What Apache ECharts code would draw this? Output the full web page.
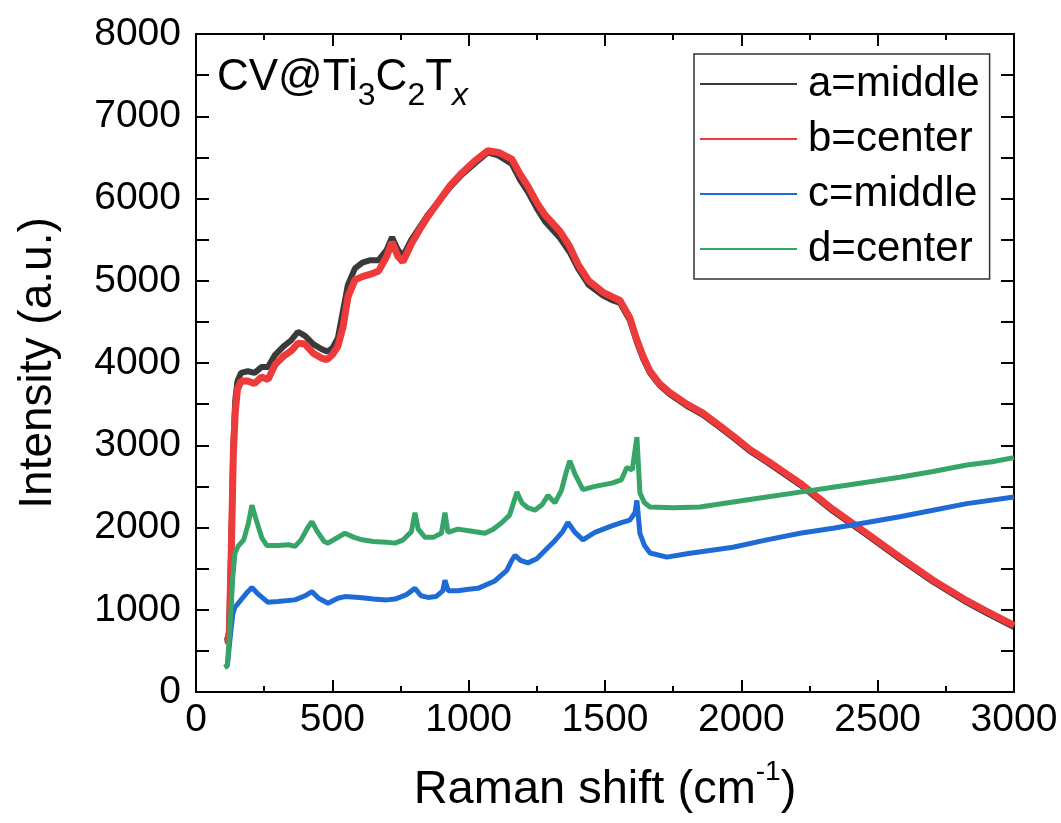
<!DOCTYPE html>
<html lang="en">
<head>
<meta charset="UTF-8">
<title>Raman CV@Ti3C2Tx</title>
<script src="https://cdn.jsdelivr.net/npm/echarts@6/dist/echarts.min.js"></script>
<style>html, body { margin: 0; background: #fff; }</style>
</head>
<body>
<div id="main" style="width: 1061px; height: 823px;"></div>
<script type="text/javascript">
// values (Raman shift in cm-1, intensity in a.u.)
var shiftAB = [105, 115, 122, 130, 137, 144, 152, 165, 190, 215, 240, 264, 290, 320, 350, 374, 400, 430, 460, 480,
    500, 520, 540, 557, 583, 610, 640, 670, 700, 719, 740, 759, 790, 820, 850, 887, 930, 975, 1020, 1070,
    1110, 1158, 1188, 1217, 1250, 1280, 1335, 1370, 1401, 1440, 1493, 1529, 1555, 1591, 1617, 1640, 1665, 1700, 1738, 1800,
    1859, 1920, 1983, 2031, 2100, 2215, 2336, 2460, 2581, 2703, 2827, 2900, 3000];
var intensityA = [620, 625, 750, 1900, 3000, 3550, 3780, 3880, 3900, 3880, 3950, 3950, 4100, 4200, 4280, 4380, 4330, 4230, 4170, 4140,
    4180, 4300, 4650, 4950, 5150, 5220, 5250, 5250, 5380, 5530, 5380, 5300, 5500, 5650, 5800, 5950, 6130, 6290, 6420, 6560,
    6520, 6420, 6230, 6080, 5880, 5720, 5520, 5350, 5150, 4950, 4820, 4760, 4730, 4520, 4250, 4050, 3880, 3730, 3620, 3480,
    3370, 3220, 3060, 2930, 2780, 2520, 2200, 1910, 1620, 1340, 1090, 960, 790];
var intensityB = [620, 625, 700, 1800, 2900, 3400, 3680, 3780, 3780, 3750, 3830, 3800, 3980, 4080, 4150, 4240, 4230, 4120, 4060, 4040,
    4100, 4200, 4450, 4800, 5010, 5050, 5080, 5120, 5300, 5470, 5300, 5230, 5450, 5620, 5780, 5950, 6150, 6310, 6450, 6580,
    6560, 6480, 6300, 6150, 5950, 5800, 5600, 5420, 5200, 5000, 4860, 4800, 4760, 4550, 4280, 4080, 3900, 3750, 3640, 3500,
    3390, 3240, 3080, 2950, 2800, 2540, 2220, 1930, 1640, 1360, 1110, 980, 810];

var shiftC = [105, 115, 125, 135, 143, 165, 190, 205, 225, 264, 300, 363, 400, 425, 450, 484, 520, 546, 600, 650,
    700, 730, 770, 803, 825, 851, 880, 905, 913, 925, 960, 1000, 1034, 1096, 1140, 1158, 1170, 1190, 1217, 1250,
    1280, 1316, 1345, 1364, 1390, 1419, 1463, 1525, 1560, 1591, 1610, 1617, 1628, 1645, 1665, 1727, 1800, 1969, 2093, 2215,
    2336, 2460, 2581, 2703, 2827, 3000];
var intensityC = [300, 320, 650, 950, 1030, 1120, 1220, 1270, 1200, 1090, 1100, 1120, 1170, 1220, 1140, 1080, 1140, 1160, 1150, 1130,
    1120, 1130, 1180, 1260, 1170, 1150, 1160, 1230, 1360, 1230, 1230, 1250, 1260, 1350, 1480, 1600, 1660, 1600, 1570, 1620,
    1720, 1840, 1950, 2060, 1940, 1850, 1940, 2020, 2060, 2090, 2180, 2330, 1930, 1780, 1690, 1640, 1680, 1760, 1850, 1930,
    1990, 2060, 2130, 2210, 2290, 2370];

var shiftD = [105, 115, 125, 135, 143, 154, 175, 192, 205, 220, 242, 260, 300, 340, 363, 385, 410, 425, 445, 470,
    484, 510, 546, 580, 609, 650, 700, 730, 760, 790, 803, 815, 840, 870, 900, 913, 924, 960, 1000, 1060,
    1090, 1122, 1150, 1177, 1195, 1217, 1243, 1270, 1291, 1316, 1340, 1360, 1371, 1390, 1419, 1463, 1525, 1560, 1580, 1600,
    1617, 1628, 1645, 1665, 1750, 1848, 1970, 2093, 2215, 2336, 2460, 2581, 2703, 2827, 2920, 3000];
var intensityD = [300, 320, 800, 1400, 1690, 1770, 1850, 2050, 2270, 2100, 1870, 1780, 1780, 1790, 1770, 1850, 2000, 2070, 1950, 1830,
    1810, 1860, 1930, 1880, 1850, 1830, 1820, 1810, 1850, 1950, 2180, 1980, 1880, 1880, 1930, 2180, 1940, 1980, 1960, 1930,
    1980, 2060, 2150, 2430, 2300, 2240, 2210, 2280, 2390, 2300, 2450, 2700, 2810, 2650, 2460, 2500, 2540, 2580, 2730, 2700,
    3100, 2420, 2300, 2250, 2240, 2250, 2310, 2370, 2430, 2490, 2550, 2610, 2680, 2760, 2800, 2850];

var seriesNames = ['a=middle', 'b=center', 'c=middle', 'd=center'];
var seriesColors = ['#3a3a3a', '#ee3a3a', '#1f6bd6', '#36a567'];

var FONT = '"Liberation Sans", Arial, sans-serif';

function pairs(xs, ys) {
    return xs.map(function (x, i) {
        return [x, ys[i]];
    });
}

var myChart = echarts.init(document.getElementById('main'));

function axisCommon(pos, showLabel, isX) {
    return {
        type: 'value',
        position: pos,
        min: 0,
        max: isX ? 3000 : 8000,
        interval: isX ? 500 : 1000,
        axisLine: { show: true, onZero: false, lineStyle: { color: '#000', width: 2 } },
        axisTick: { show: true, inside: true, length: isX ? 12 : 13, lineStyle: { color: '#000', width: 2 } },
        minorTick: { show: true, splitNumber: 2, length: isX ? 6 : 13, lineStyle: { color: '#000', width: 2 } },
        splitLine: { show: false },
        minorSplitLine: { show: false },
        axisLabel: {
            show: showLabel,
            fontFamily: FONT,
            fontSize: 39,
            color: '#000',
            margin: isX ? 9 : 15,
            formatter: function (v) { return String(v); }
        }
    };
}

var xBottom = axisCommon('bottom', true, true);
xBottom.name = '{n|Raman shift (cm}{sup|-1}{n|)}';
xBottom.nameLocation = 'middle';
xBottom.nameGap = 66;
xBottom.nameTextStyle = {
    fontFamily: FONT, fontSize: 47, color: '#000',
    rich: {
        n: { fontFamily: FONT, fontSize: 47, lineHeight: 56, verticalAlign: 'bottom', color: '#000' },
        sup: { fontFamily: FONT, fontSize: 28, lineHeight: 28, verticalAlign: 'top', color: '#000' }
    }
};

var yLeft = axisCommon('left', true, false);
yLeft.name = 'Intensity (a.u.)';
yLeft.nameLocation = 'middle';
yLeft.nameGap = 135;
yLeft.nameTextStyle = { fontFamily: FONT, fontSize: 46, color: '#000' };

var seriesData = [pairs(shiftAB, intensityA), pairs(shiftAB, intensityB), pairs(shiftC, intensityC), pairs(shiftD, intensityD)];
var widths = [6, 7, 5, 5];

myChart.setOption({
    animation: false,
    backgroundColor: '#fff',
    title: {
        text: '{n|CV@Ti}{sub|3}{n|C}{sub|2}{n|T}{x|x}',
        left: 217,
        top: 56,
        padding: 0,
        textStyle: {
            fontFamily: FONT, fontSize: 44, fontWeight: 'normal', color: '#000',
            rich: {
                n: { fontFamily: FONT, fontSize: 44, lineHeight: 44, verticalAlign: 'top', color: '#000' },
                sub: { fontFamily: FONT, fontSize: 32, lineHeight: 56, verticalAlign: 'bottom', color: '#000' },
                x: { fontFamily: FONT, fontSize: 32, fontStyle: 'italic', lineHeight: 56, verticalAlign: 'bottom', color: '#000' }
            }
        }
    },
    legend: {
        orient: 'vertical',
        left: 694,
        top: 54,
        padding: [9, 10, 9, 6],
        itemGap: 13,
        itemWidth: 97,
        itemHeight: 2,
        icon: 'rect',
        borderColor: '#333',
        borderWidth: 1.5,
        backgroundColor: '#fff',
        textStyle: { fontFamily: FONT, fontSize: 42, lineHeight: 40, color: '#000', padding: [0, 0, 0, 6] },
        data: seriesNames
    },
    grid: { left: 196, right: 47, top: 34, bottom: 131 },
    xAxis: [xBottom, axisCommon('top', false, true)],
    yAxis: [yLeft, axisCommon('right', false, false)],
    series: seriesNames.map(function (name, i) {
        return {
            name: name,
            type: 'line',
            xAxisIndex: 0,
            yAxisIndex: 0,
            showSymbol: false,
            symbol: 'none',
            color: seriesColors[i],
            lineStyle: { color: seriesColors[i], width: widths[i] },
            data: seriesData[i]
        };
    })
});
</script>
</body>
</html>
